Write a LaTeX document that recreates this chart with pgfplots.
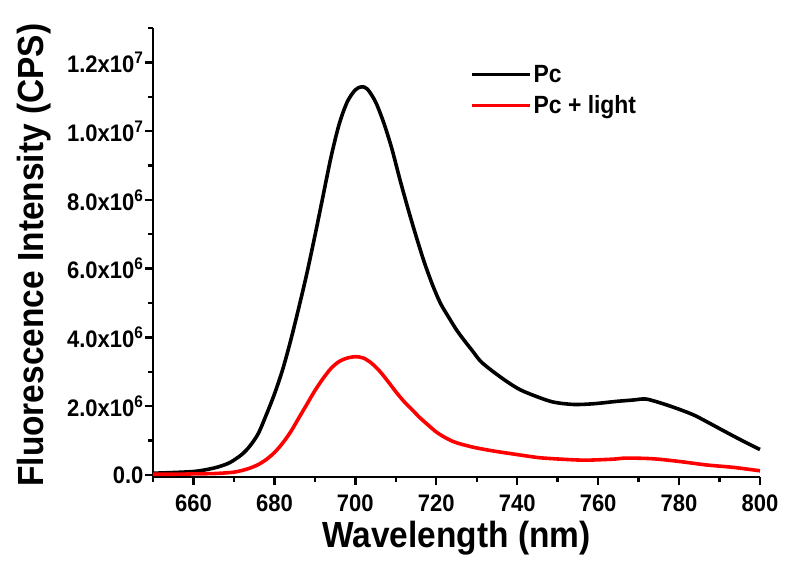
\documentclass[border=0pt]{standalone}
\usepackage{pgfplots}
\pgfplotsset{compat=1.18}
\usepackage{fontspec}
\setmainfont{Liberation Sans}[FakeStretch=0.92]

\begin{document}
\begin{tikzpicture}
\begin{axis}[
  scale only axis,
  width=607bp, height=449bp,
  xmin=650, xmax=800,
  ymin=-0.06e6, ymax=13e6,
  axis x line*=bottom, axis y line*=left,
  axis line style={line width=2.8pt},
  tick align=outside,
  major tick length=8bp, minor tick length=5bp,
  every tick/.style={black, line width=2.4pt},
  xtick={660,680,700,720,740,760,780,800},
  xticklabels={660,680,700,720,740,760,780,800},
  minor xtick={650,670,690,710,730,750,770,790},
  ytick={0,2e6,4e6,6e6,8e6,10e6,12e6},
  yticklabels={0.0,2.0x10\textsuperscript{6},4.0x10\textsuperscript{6},6.0x10\textsuperscript{6},8.0x10\textsuperscript{6},1.0x10\textsuperscript{7},1.2x10\textsuperscript{7}},
  minor ytick={1e6,3e6,5e6,7e6,9e6,11e6,13e6},
  scaled y ticks=false,
  tick label style={font=\bfseries\fontsize{24}{24}\selectfont},
  xticklabel style={yshift=-6bp},
  yticklabel style={xshift=2bp},
  xlabel={Wavelength (nm)},
  ylabel={Fluorescence Intensity (CPS)},
  label style={font=\bfseries\fontsize{36.5}{36.5}\selectfont, inner sep=0pt},
  xlabel style={at={(axis description cs:0.5,0)}, anchor=north, yshift=-44bp},
  ylabel style={at={(axis description cs:-0.168,0.494)}, anchor=south},
  legend style={at={(0.522,0.922)}, anchor=north west, draw=none, fill=none,
    inner sep=0pt, row sep=8bp,
    font=\bfseries\fontsize{25}{25}\selectfont},
  legend cell align=left,
  legend image code/.code={\draw[#1, line width=3.6pt] (0bp,0bp) -- (58bp,0bp);},
  clip=false,
]
% Pc
\addplot[black, line width=3.6pt, smooth, tension=0.5] coordinates {
(650,0.05e6) (655,0.07e6) (660,0.10e6) (663,0.15e6) (666,0.23e6)
(669,0.36e6) (672,0.6e6) (674,0.85e6) (676,1.2e6) (678,1.75e6)
(680,2.35e6) (682,3.05e6) (684,3.9e6) (686,4.85e6) (688,5.85e6)
(690,6.95e6) (692,8.1e6) (694,9.25e6) (696,10.2e6) (698,10.85e6)
(700,11.2e6) (701.6,11.29e6) (703,11.22e6) (705,10.85e6) (707,10.25e6)
(709,9.5e6) (711,8.6e6) (713,7.75e6) (715,6.95e6) (717,6.2e6)
(719,5.55e6) (721,5.0e6) (723,4.6e6) (725,4.22e6) (727,3.9e6)
(729,3.6e6) (731,3.3e6) (734,3.01e6) (737.4,2.72e6) (740.7,2.48e6)
(744.8,2.28e6) (748.9,2.12e6) (753.9,2.05e6) (758.8,2.07e6) (764.6,2.14e6)
(768.7,2.18e6) (771.6,2.21e6) (774.4,2.13e6) (778.6,1.97e6) (783.5,1.75e6)
(787.6,1.5e6) (791.7,1.24e6) (795.9,0.98e6) (800,0.74e6)
};
\addlegendentry{Pc}
% Pc + light
\addplot[red, line width=3.6pt, smooth, tension=0.5] coordinates {
(650,0.02e6) (655,0.02e6) (660,0.03e6) (665,0.04e6) (668,0.06e6)
(670,0.08e6) (672,0.13e6) (674,0.2e6) (676,0.3e6) (678,0.45e6)
(680,0.65e6) (682,0.92e6) (684,1.25e6) (686,1.65e6) (688,2.05e6)
(690,2.45e6) (692,2.8e6) (694,3.1e6) (696,3.3e6) (698,3.4e6)
(700,3.44e6) (702,3.4e6) (704,3.25e6) (706,3.02e6) (708,2.73e6)
(710,2.42e6) (712,2.14e6) (714,1.9e6) (716,1.66e6) (718,1.45e6)
(720,1.25e6) (722,1.1e6) (724,0.98e6) (726,0.9e6) (729,0.81e6)
(732,0.74e6) (735,0.68e6) (740.7,0.58e6) (745.6,0.50e6) (752.2,0.45e6)
(757.1,0.43e6) (763.8,0.46e6) (767,0.49e6) (773.6,0.47e6) (780.2,0.39e6)
(786.8,0.29e6) (793.4,0.22e6) (800,0.12e6)
};
\addlegendentry{Pc + light}
\end{axis}
\path ([xshift=-153bp,yshift=-84bp]current axis.south west)
  rectangle ([xshift=25bp,yshift=28bp]current axis.north east);
\end{tikzpicture}
\end{document}
